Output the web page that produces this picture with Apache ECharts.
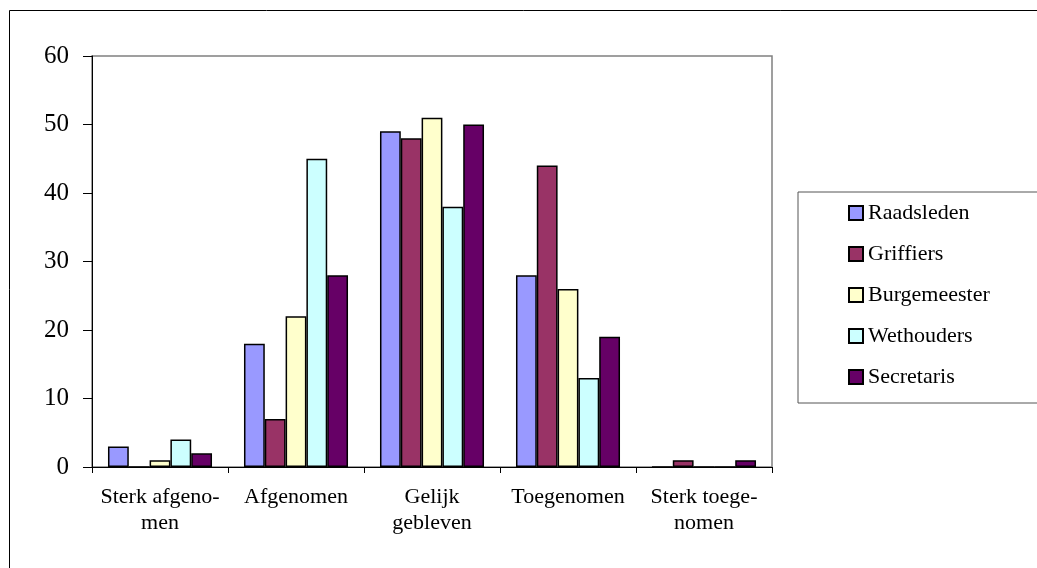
<!DOCTYPE html>
<html>
<head>
<meta charset="utf-8">
<script src="https://cdn.jsdelivr.net/npm/echarts@6/dist/echarts.min.js"></script>
<style>
  html, body { margin: 0; padding: 0; background: #ffffff; }
  #chart { width: 1037px; height: 568px; }
</style>
</head>
<body>
<div id="chart"></div>
<script>
// Categories along the x axis (line breaks as printed)
const categories = [
  'Sterk afgeno-\nmen',
  'Afgenomen',
  'Gelijk\ngebleven',
  'Toegenomen',
  'Sterk toege-\nnomen'
];

// One array per group of respondents
const raadsleden   = [3, 18, 49, 28, 0];
const griffiers    = [0, 7, 48, 44, 1];
const burgemeester = [1, 22, 51, 26, 0];
const wethouders   = [4, 45, 38, 13, 0];
const secretaris   = [2, 28, 50, 19, 1];

const seriesNames  = ['Raadsleden', 'Griffiers', 'Burgemeester', 'Wethouders', 'Secretaris'];
const seriesData   = [raadsleden, griffiers, burgemeester, wethouders, secretaris];
const seriesColors = ['#9999FF', '#993366', '#FFFFCC', '#CCFFFF', '#660066'];

const yMin = 0, yMax = 60, yStep = 10;

const serif = '"Liberation Serif", "DejaVu Serif", serif';

const chart = echarts.init(document.getElementById('chart'), null, { renderer: 'canvas' });

chart.setOption({
  backgroundColor: '#ffffff',
  animation: false,
  graphic: [{
    type: 'rect',
    shape: { x: 9.5, y: 10.5, width: 1100, height: 700 },
    style: { fill: 'none', stroke: '#000000', lineWidth: 1 },
    silent: true,
    z: -10
  }],
  grid: {
    left: 92,
    top: 56,
    right: 265,
    bottom: 101,
    show: true,
    borderColor: '#808080',
    borderWidth: 1.5,
    backgroundColor: 'transparent'
  },
  legend: {
    orient: 'vertical',
    left: 798,
    top: 192,
    padding: [10, 60, 15, 50],
    itemGap: 19,
    itemWidth: 14,
    itemHeight: 14,
    icon: 'rect',
    borderColor: '#555555',
    borderWidth: 1,
    textStyle: { fontFamily: serif, fontSize: 22, lineHeight: 22, color: '#000000' },
    data: seriesNames
  },
  xAxis: {
    type: 'category',
    data: categories,
    axisLine: { show: true, lineStyle: { color: '#000000', width: 1 } },
    axisTick: { show: true, length: 6, alignWithLabel: false, lineStyle: { color: '#000000' } },
    axisLabel: {
      interval: 0,
      margin: 17,
      fontFamily: serif,
      fontSize: 22,
      lineHeight: 26,
      color: '#000000',
      align: 'center'
    },
    splitLine: { show: false }
  },
  yAxis: {
    type: 'value',
    min: yMin,
    max: yMax,
    interval: yStep,
    axisLine: { show: true, lineStyle: { color: '#000000', width: 1 } },
    axisTick: { show: true, length: 9, inside: false, lineStyle: { color: '#000000' } },
    axisLabel: {
      margin: 23,
      fontFamily: serif,
      fontSize: 25,
      color: '#000000'
    },
    splitLine: { show: false }
  },
  series: seriesNames.map((name, i) => ({
    name: name,
    type: 'bar',
    data: seriesData[i],
    barGap: '0%',
    barCategoryGap: '23.5%',
    itemStyle: {
      color: seriesColors[i],
      borderColor: '#000000',
      borderWidth: 1.5
    }
  }))
});
</script>
</body>
</html>
